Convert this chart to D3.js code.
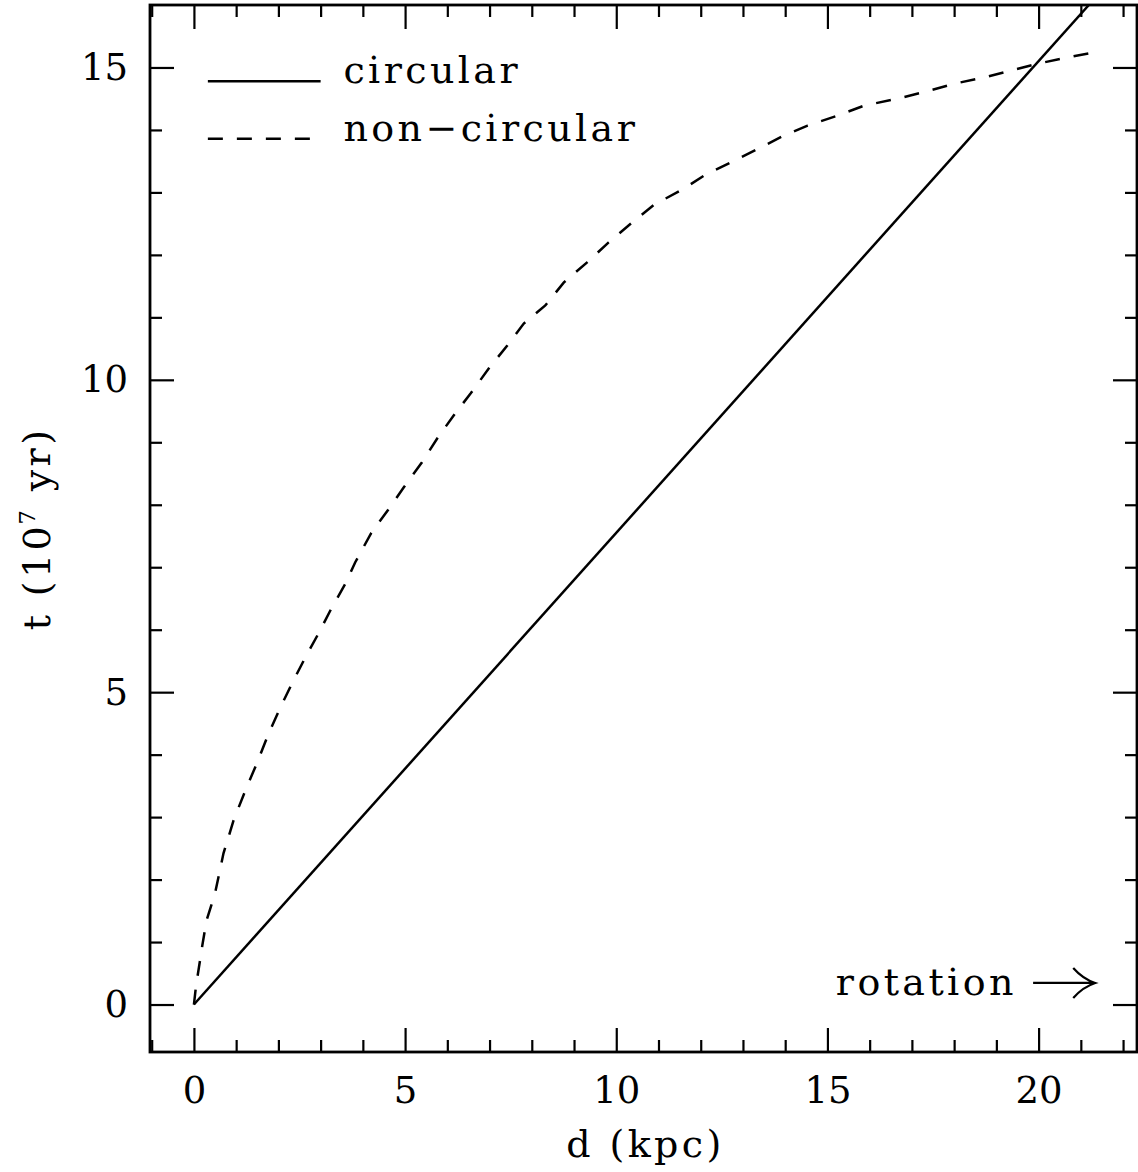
<!DOCTYPE html>
<html><head><meta charset="utf-8">
<script src="https://cdn.jsdelivr.net/npm/d3@7"></script>
<style>body{margin:0;background:#fff}</style>
</head><body><div id="chart"></div>
<script>
// ---- data ----
const circularD = [0, 21.19];
const circularT = [0, 16];
const nonCircD = [0, 0.05, 0.12, 0.2, 0.3, 0.5, 0.7, 0.94, 1.22, 1.49, 1.77, 2.05, 2.36, 2.64, 2.95, 3.27, 3.59, 3.82,
  4.2, 4.6, 4.97, 5.4, 5.76, 6.15, 6.55, 6.98, 7.42, 7.81, 8.32, 8.76, 9.31, 9.82, 10.38, 10.89,
  11.6, 12.08, 12.71, 13.42, 13.97, 14.53, 15.24, 15.87, 16.66, 17.37, 18.0, 18.71, 19.34, 19.98, 20.6, 21.3];
const nonCircT = [0, 0.3, 0.6, 0.95, 1.35, 1.78, 2.42, 2.95, 3.43, 3.86, 4.34, 4.76, 5.19, 5.56, 5.94, 6.36, 6.74, 7.08,
  7.55, 7.92, 8.28, 8.68, 9.06, 9.43, 9.78, 10.18, 10.55, 10.9, 11.19, 11.56, 11.88, 12.2, 12.52, 12.8,
  13.06, 13.27, 13.48, 13.72, 13.91, 14.07, 14.23, 14.39, 14.5, 14.62, 14.74, 14.84, 14.95, 15.06, 15.15, 15.24];
const xMajorTicks = [0, 5, 10, 15, 20];
const xMinorTicks = [-1, 1, 2, 3, 4, 6, 7, 8, 9, 11, 12, 13, 14, 16, 17, 18, 19, 21, 22];
const yMajorTicks = [0, 5, 10, 15];
const yMinorTicks = [1, 2, 3, 4, 6, 7, 8, 9, 11, 12, 13, 14];
const legendLabels = ["circular", "non\u2212circular"];
const xTitle = "d (kpc)";
const annotation = "rotation";

// ---- layout ----
const W = 1138, H = 1172;
const L = 150, R = 1137, T = 5, B = 1052;
const FONT = "DejaVu Serif";
const FS = 37;     // tick labels
const FT = 38;     // words
const LS = 3.4;    // letter spacing for words

const x = d3.scaleLinear().domain([-1.04, 22.33]).range([L, R]);
const y = d3.scaleLinear().domain([-0.76, 16]).range([B, T]);

const svg = d3.select("#chart").append("svg").attr("width", W).attr("height", H)
  .style("font-family", FONT);

function styleAxis(g) {
  g.select(".domain").remove();
  g.selectAll(".tick line").attr("stroke", "#000").attr("stroke-width", 2.2);
  g.selectAll("text").attr("font-family", FONT).attr("font-size", FS).attr("fill", "#000");
}

// bottom
svg.append("g").attr("transform", `translate(0,${B})`)
  .call(d3.axisBottom(x).tickValues(xMajorTicks).tickSize(-24).tickPadding(25).tickFormat(d3.format("d"))).call(styleAxis);
svg.append("g").attr("transform", `translate(0,${B})`)
  .call(d3.axisBottom(x).tickValues(xMinorTicks).tickSize(-12).tickFormat("")).call(styleAxis);
// top
svg.append("g").attr("transform", `translate(0,${T})`)
  .call(d3.axisTop(x).tickValues(xMajorTicks).tickSize(-24).tickFormat("")).call(styleAxis);
svg.append("g").attr("transform", `translate(0,${T})`)
  .call(d3.axisTop(x).tickValues(xMinorTicks).tickSize(-12).tickFormat("")).call(styleAxis);
// left
svg.append("g").attr("transform", `translate(${L},0)`)
  .call(d3.axisLeft(y).tickValues(yMajorTicks).tickSize(-24).tickPadding(22).tickFormat(d3.format("d"))).call(styleAxis);
svg.append("g").attr("transform", `translate(${L},0)`)
  .call(d3.axisLeft(y).tickValues(yMinorTicks).tickSize(-12).tickFormat("")).call(styleAxis);
// right
svg.append("g").attr("transform", `translate(${R},0)`)
  .call(d3.axisRight(y).tickValues(yMajorTicks).tickSize(-24).tickFormat("")).call(styleAxis);
svg.append("g").attr("transform", `translate(${R},0)`)
  .call(d3.axisRight(y).tickValues(yMinorTicks).tickSize(-12).tickFormat("")).call(styleAxis);

// frame
svg.append("rect").attr("x", L).attr("y", T).attr("width", R - L).attr("height", B - T)
  .attr("fill", "none").attr("stroke", "#000").attr("stroke-width", 2.8);

// clip
svg.append("clipPath").attr("id", "clip").append("rect")
  .attr("x", L).attr("y", T).attr("width", R - L).attr("height", B - T);

const line = d3.line().x(d => x(d[0])).y(d => y(d[1]));
const circ = circularD.map((d, i) => [d, circularT[i]]);
const nonc = nonCircD.map((d, i) => [d, nonCircT[i]]);

svg.append("path").datum(circ).attr("d", line).attr("clip-path", "url(#clip)")
  .attr("fill", "none").attr("stroke", "#000").attr("stroke-width", 2.5);
svg.append("path").datum(nonc).attr("d", line).attr("clip-path", "url(#clip)")
  .attr("fill", "none").attr("stroke", "#000").attr("stroke-width", 2.5)
  .attr("stroke-dasharray", "15,14");

// legend
const legY = [y(14.78), y(13.86)];
svg.append("line").attr("x1", x(0.33)).attr("x2", x(3.0)).attr("y1", legY[0]).attr("y2", legY[0])
  .attr("stroke", "#000").attr("stroke-width", 2.5);
svg.append("line").attr("x1", x(0.33)).attr("x2", x(3.0)).attr("y1", legY[1]).attr("y2", legY[1])
  .attr("stroke", "#000").attr("stroke-width", 2.5).attr("stroke-dasharray", "15,14");
legendLabels.forEach((lab, i) => {
  svg.append("text").attr("x", x(3.54)).attr("y", legY[i] + 2).text(lab)
    .attr("font-size", FT).attr("letter-spacing", LS).attr("fill", "#000");
});

// annotation
svg.append("text").attr("x", x(15.2)).attr("y", y(0.152)).text(annotation)
  .attr("font-size", FT).attr("letter-spacing", LS).attr("fill", "#000");
const ay = y(0.345);
svg.append("path")
  .attr("d", `M${x(19.87)},${ay}H${x(21.34)}M${x(20.82)},${ay - 15}Q${x(21.05)},${ay - 4} ${x(21.34)},${ay}Q${x(21.05)},${ay + 4} ${x(20.82)},${ay + 15}`)
  .attr("fill", "none").attr("stroke", "#000").attr("stroke-width", 2.2);

// axis titles
svg.append("text").attr("x", (L + R) / 2 + 2).attr("y", 1157).attr("text-anchor", "middle")
  .text(xTitle).attr("font-size", FT).attr("letter-spacing", LS).attr("fill", "#000");
const yt = svg.append("text").attr("transform", `translate(50,${(T + B) / 2}) rotate(-90)`)
  .attr("text-anchor", "middle").attr("font-size", FT).attr("letter-spacing", LS).attr("fill", "#000");
yt.append("tspan").text("t (10");
yt.append("tspan").text("7").attr("font-size", 23).attr("dy", -15).attr("dx", -2);
yt.append("tspan").text(" yr)").attr("dy", 15);
</script>
</body></html>
